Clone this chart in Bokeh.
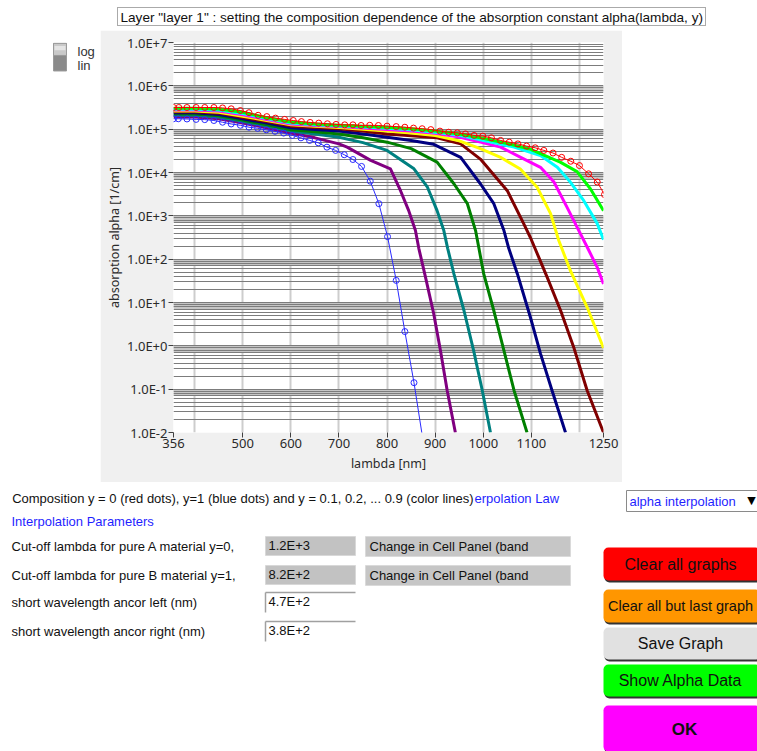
import numpy as np
from bokeh.plotting import figure
from bokeh.models import Range1d, FixedTicker, Grid, Quad
from bokeh.layouts import column, row
from bokeh.embed import file_html
from bokeh.resources import INLINE
from bokeh.core.properties import value

# ---------------- data: lambda [nm] and log10(alpha [1/cm]) ----------------
lam_y0 = [356, 367, 384, 403, 421, 440, 458, 476, 495, 513, 532, 550, 568, 587, 605, 622, 640, 658, 676, 694,
          712, 729, 746, 764, 782, 800, 819, 837, 855, 873, 891, 910, 928, 946, 963, 981, 999, 1017, 1036, 1054,
          1072, 1090, 1108, 1126, 1145, 1163, 1182, 1200, 1219, 1237, 1252]
exp_y0 = [5.50, 5.50, 5.50, 5.50, 5.50, 5.50, 5.49, 5.47, 5.43, 5.38, 5.32, 5.29, 5.255, 5.225, 5.20, 5.175, 5.155, 5.14, 5.125, 5.11,
          5.10, 5.10, 5.085, 5.09, 5.085, 5.07, 5.06, 5.045, 5.025, 5.01, 4.99, 4.955, 4.93, 4.915, 4.89, 4.855, 4.84, 4.80, 4.74, 4.70,
          4.66, 4.61, 4.57, 4.51, 4.45, 4.35, 4.26, 4.16, 3.97, 3.78, 3.49]

lam_y1 = [356, 366, 384, 403, 421, 440, 458, 476, 495, 513, 531, 549, 567, 585, 603, 621, 639, 657, 675, 693,
          711, 729, 747, 765, 783, 801, 819, 837, 856, 875]
exp_y1 = [5.24, 5.24, 5.235, 5.225, 5.22, 5.20, 5.16, 5.12, 5.09, 5.045, 5.02, 4.985, 4.95, 4.91, 4.855, 4.80, 4.74, 4.685, 4.585, 4.51,
          4.41, 4.30, 4.14, 3.80, 3.28, 2.52, 1.51, 0.33, -0.85, -2.2]

lam_01 = [356, 400, 450, 500, 550, 600, 650, 700, 750, 800, 850, 900, 950, 994, 1050, 1100, 1126, 1160, 1195, 1223, 1250]
exp_01 = [5.48, 5.48, 5.465, 5.39, 5.265, 5.165, 5.12, 5.09, 5.07, 5.045, 5.01, 4.955, 4.89, 4.80, 4.67, 4.53, 4.40, 4.24, 4.02, 3.62, 3.12]

lam_02 = [356, 400, 450, 500, 550, 600, 650, 700, 750, 800, 850, 900, 950, 994, 1064, 1119, 1154, 1181, 1209, 1237, 1250]
exp_02 = [5.46, 5.46, 5.44, 5.36, 5.245, 5.14, 5.10, 5.075, 5.05, 5.02, 4.985, 4.93, 4.86, 4.755, 4.585, 4.39, 4.12, 3.78, 3.35, 2.82, 2.45]

lam_03 = [356, 400, 450, 500, 550, 600, 650, 700, 750, 800, 850, 900, 950, 994, 1036, 1084, 1119, 1147, 1174, 1195, 1216, 1237, 1250]
exp_03 = [5.44, 5.44, 5.42, 5.33, 5.225, 5.12, 5.085, 5.06, 5.025, 4.99, 4.955, 4.905, 4.82, 4.70, 4.585, 4.315, 4.12, 3.78, 3.20, 2.74, 2.28, 1.81, 1.43]

lam_04 = [356, 400, 450, 500, 550, 600, 650, 700, 750, 800, 850, 900, 950, 994, 1036, 1077, 1112, 1140, 1157, 1181, 1216, 1250]
exp_04 = [5.42, 5.42, 5.39, 5.30, 5.20, 5.10, 5.07, 5.04, 5.00, 4.955, 4.91, 4.855, 4.73, 4.55, 4.35, 4.08, 3.66, 3.05, 2.43, 1.74, 0.89, -0.05]

lam_05 = [356, 400, 450, 500, 550, 600, 650, 700, 750, 800, 850, 904, 953, 994, 1050, 1084, 1098, 1119, 1133, 1161, 1188, 1216, 1250]
exp_05 = [5.40, 5.40, 5.37, 5.27, 5.175, 5.07, 5.04, 5.01, 4.96, 4.89, 4.85, 4.80, 4.66, 4.31, 3.58, 2.82, 2.50, 1.95, 1.58, 0.81, -0.03, -1.03, -2.0]

lam_06 = [356, 400, 450, 500, 550, 600, 650, 700, 750, 800, 850, 897, 953, 994, 1022, 1043, 1053, 1071, 1098, 1119, 1143, 1171]
exp_06 = [5.38, 5.38, 5.34, 5.24, 5.14, 5.03, 4.995, 4.955, 4.89, 4.815, 4.74, 4.65, 4.35, 3.74, 3.28, 2.66, 2.25, 1.66, 0.66, -0.18, -1.03, -2.0]

lam_07 = [356, 400, 450, 500, 550, 600, 650, 700, 750, 800, 850, 904, 939, 967, 984, 991, 1001, 1022, 1043, 1064, 1091]
exp_07 = [5.35, 5.35, 5.31, 5.21, 5.10, 4.985, 4.94, 4.89, 4.80, 4.70, 4.55, 4.24, 3.74, 3.28, 2.66, 2.25, 1.66, 0.81, -0.11, -1.03, -2.0]

lam_08 = [356, 400, 450, 500, 550, 600, 650, 700, 750, 800, 856, 884, 904, 918, 926, 939, 960, 980, 998, 1015]
exp_08 = [5.32, 5.32, 5.28, 5.18, 5.07, 4.955, 4.89, 4.815, 4.69, 4.51, 4.085, 3.66, 3.12, 2.66, 2.25, 1.66, 0.81, -0.11, -1.03, -2.0]

lam_09 = [356, 400, 450, 500, 550, 600, 650, 700, 717, 766, 807, 828, 845, 859, 866, 880, 897, 911, 925, 942]
exp_09 = [5.28, 5.28, 5.24, 5.14, 5.03, 4.91, 4.80, 4.66, 4.585, 4.28, 4.085, 3.58, 3.12, 2.66, 2.25, 1.58, 0.74, -0.11, -1.03, -2.0]

line_colors = ["#00ff00", "#00ffff", "#ff00ff", "#ffff00", "#800000", "#000080", "#008000", "#008080", "#800080"]

x_tick_values = [356, 500, 600, 700, 800, 900, 1000, 1100, 1250]
x_grid_values = [400, 500, 600, 700, 800, 900, 1000, 1100, 1200]
y_tick_values = [1e-2, 1e-1, 1e0, 1e1, 1e2, 1e3, 1e4, 1e5, 1e6, 1e7]
y_tick_labels = ["1.0E-2", "1.0E-1", "1.0E+0", "1.0E+1", "1.0E+2", "1.0E+3", "1.0E+4", "1.0E+5", "1.0E+6", "1.0E+7"]

title_text = 'Layer "layer 1" : setting the composition dependence of the absorption constant alpha(lambda, y)'
comp_text = "Composition y = 0 (red dots), y=1 (blue dots) and y = 0.1, 0.2, ... 0.9 (color lines)"
row_labels = ["Cut-off lambda for pure A material y=0,", "Cut-off lambda for pure B material y=1,",
              "short wavelength ancor left  (nm)", "short wavelength ancor right (nm)"]
row_values = ["1.2E+3", "8.2E+2", "4.7E+2", "3.8E+2"]
btn_labels = ["Clear all graphs", "Clear all but last graph", "Save Graph", "Show Alpha Data", "OK"]
btn_colors = ["#ff0000", "#ff9600", "#e1e1e1", "#00ff00", "#ff00ff"]

FONT = "Liberation Sans"
BLUE_TXT = "#1f1fff"
RADIUS = {"border_radius": 5} if "border_radius" in Quad.properties() else {}


def bare(w, h, x0, x1, y0, y1, bg="white"):
    f = figure(width=w, height=h, x_range=Range1d(x0, x1), y_range=Range1d(y1, y0),
               output_backend="svg", toolbar_location=None, x_axis_location=None, y_axis_location=None,
               min_border=0, min_border_left=0, min_border_right=0, min_border_top=0, min_border_bottom=0,
               background_fill_color=bg, border_fill_color=bg, outline_line_color=None)
    f.xgrid.visible = False
    f.ygrid.visible = False
    return f


def txt(f, x, y, s, size="13px", color="#000000", align="left", style="normal", font=FONT):
    f.text(x=[x], y=[y], text=[s], text_font=value(font), text_font_size=size, text_color=color,
           text_align=align, text_baseline="middle", text_font_style=style)


# ---------------- chart ----------------
chart = figure(width=522, height=452, y_axis_type="log", x_range=Range1d(356, 1250), y_range=Range1d(1e-2, 1e7),
               output_backend="svg", toolbar_location=None,
               min_border_left=73, min_border_right=19, min_border_top=12, min_border_bottom=50,
               background_fill_color="white", border_fill_color="#f0f0f0", outline_line_color=None)

# grid: light vertical lines, light band below each decade, darker minor / decade lines
chart.xgrid.ticker = FixedTicker(ticks=x_grid_values)
chart.xgrid.grid_line_color = "#cdcdcd"
chart.xgrid.grid_line_width = 2
band = [k * 10.0 ** n for n in range(-2, 6) for k in np.arange(7.3, 9.95, 0.2)]
chart.ygrid.ticker = FixedTicker(ticks=band)
chart.ygrid.grid_line_color = "#c6c6c6"
minor = [k * 10.0 ** n for n in range(-2, 7) for k in range(2, 10)]
chart.add_layout(Grid(dimension=1, ticker=FixedTicker(ticks=minor), grid_line_color="#7c7c7c", grid_line_width=1))
chart.add_layout(Grid(dimension=1, ticker=FixedTicker(ticks=y_tick_values), grid_line_color="#7c7c7c", grid_line_width=1))

chart.xaxis.ticker = FixedTicker(ticks=x_tick_values)
chart.yaxis.ticker = FixedTicker(ticks=y_tick_values)
chart.yaxis.major_label_overrides = {v: s for v, s in zip(y_tick_values, y_tick_labels)}
chart.xaxis.axis_label = "lambda [nm]"
chart.yaxis.axis_label = "absorption alpha [1/cm]"
for ax in (chart.xaxis, chart.yaxis):
    ax.axis_line_color = None
    ax.minor_tick_line_color = None
    ax.major_tick_out = 5
    ax.major_tick_in = 0
    ax.major_tick_line_color = "#404040"
    ax.major_label_text_font = "Noto Sans"
    ax.major_label_text_font_size = "13px"
    ax.major_label_text_color = "#2a2a2a"
    ax.axis_label_text_font = "Noto Sans"
    ax.axis_label_text_font_size = "12.5px"
    ax.axis_label_text_font_style = "normal"
    ax.axis_label_text_color = "#2a2a2a"
chart.yaxis.major_label_standoff = 1
chart.yaxis.axis_label_standoff = 1
chart.xaxis.major_label_standoff = 1
chart.xaxis.axis_label_standoff = 4

series = [(lam_09, exp_09), (lam_08, exp_08), (lam_07, exp_07), (lam_06, exp_06), (lam_05, exp_05),
          (lam_04, exp_04), (lam_03, exp_03), (lam_02, exp_02), (lam_01, exp_01)]
cols = line_colors[::-1]
for (lam, ex), c in zip(series, cols):
    chart.line(lam, np.power(10.0, ex), line_color=c, line_width=3, line_join="round")

a0 = np.power(10.0, exp_y0)
a1 = np.power(10.0, exp_y1)
chart.line(lam_y1, a1, line_color="#2a2aff", line_width=1)
chart.scatter(lam_y1, a1, marker="circle", size=6, fill_color=None, line_color="#2a2aff", line_width=1)
chart.line(lam_y0, a0, line_color="#ff0000", line_width=1)
chart.scatter(lam_y0, a0, marker="circle", size=6, fill_color=None, line_color="#ff0000", line_width=1)

# ---------------- title strip ----------------
top = bare(757, 30, 0, 757, 0, 30)
top.quad(left=[117], right=[705], top=[7], bottom=[25], fill_color=None, line_color="#555555",
         line_dash="1 1", line_width=1)
txt(top, 120, 16.5, title_text, size="13.6px", color="#111111")

# ---------------- left strip with log/lin switch ----------------
left = bare(100, 452, 0, 100, 30, 482)
left.quad(left=[53], right=[66], top=[31], bottom=[63], fill_color="#8a8a8a", line_color="#9a9a9a")
left.quad(left=[53], right=[66], top=[31], bottom=[45], fill_color="#c9c9c9", line_color="#9a9a9a")
left.quad(left=[54], right=[65], top=[34], bottom=[39], fill_color="#e4e4e4", line_color=None)
txt(left, 77, 40.5, "log", color="#333333")
txt(left, 77, 56.5, "lin", color="#333333")

# ---------------- right strip ----------------
right = bare(135, 452, 622, 757, 30, 482)

# ---------------- lower control area ----------------
low = bare(757, 269, 0, 757, 482, 751)
txt(low, 473, 498, comp_text, color="#111111", align="right")
txt(low, 474, 498, "erpolation Law", color=BLUE_TXT)
txt(low, 11, 521, "Interpolation Parameters", color=BLUE_TXT)

# dropdown
low.quad(left=[626], right=[760], top=[490], bottom=[511], fill_color="white", line_color="#8a8a8a")
txt(low, 629, 500.5, "alpha interpolation", color=BLUE_TXT)
txt(low, 751, 500, "\u25bc", size="11px", color="#000000", align="center", font="DejaVu Sans")

row_y = [546, 575, 602, 631]
for i, (lab, val, yy) in enumerate(zip(row_labels, row_values, row_y)):
    txt(low, 11, yy, lab, color="#111111")
    if i < 2:
        low.quad(left=[265], right=[355], top=[yy - 10], bottom=[yy + 9], fill_color="#c2c2c2", line_color="#d8d8d8")
        low.quad(left=[365], right=[570], top=[yy - 10], bottom=[yy + 10], fill_color="#c6c6c6", line_color="#dadada")
        txt(low, 369, yy, "Change in Cell Panel (band", color="#111111")
    else:
        low.quad(left=[265], right=[355], top=[yy - 10], bottom=[yy + 10], fill_color="white", line_color=None)
        low.segment(x0=[265, 265], y0=[yy - 10, yy - 10], x1=[355, 265], y1=[yy - 10, yy + 10],
                    line_color="#a0a0a0", line_width=1.5)
    txt(low, 268, yy - 1, val, color="#111111")

# buttons
btn_top = [547, 589, 627, 664, 705]
btn_bot = [580, 622, 659, 696, 751]
btn_size = ["16px", "14.5px", "16px", "16px", "17px"]
for lab, col, t, b, fs in zip(btn_labels, btn_colors, btn_top, btn_bot, btn_size):
    low.quad(left=[604], right=[762], top=[t + 2], bottom=[b + 2], fill_color="#333333", line_color=None, **RADIUS)
    low.quad(left=[603], right=[760], top=[t], bottom=[b], fill_color=col, line_color=None, **RADIUS)
    if lab == "OK":
        txt(low, 684, (t + b) / 2 + 1, lab, size=fs, color="#111111", align="center", style="bold")
    else:
        txt(low, 680, (t + b) / 2, lab, size=fs, color="#111111", align="center")

layout = column(top, row(left, chart, right), low)
open("out.html", "w").write(file_html(layout, INLINE))
